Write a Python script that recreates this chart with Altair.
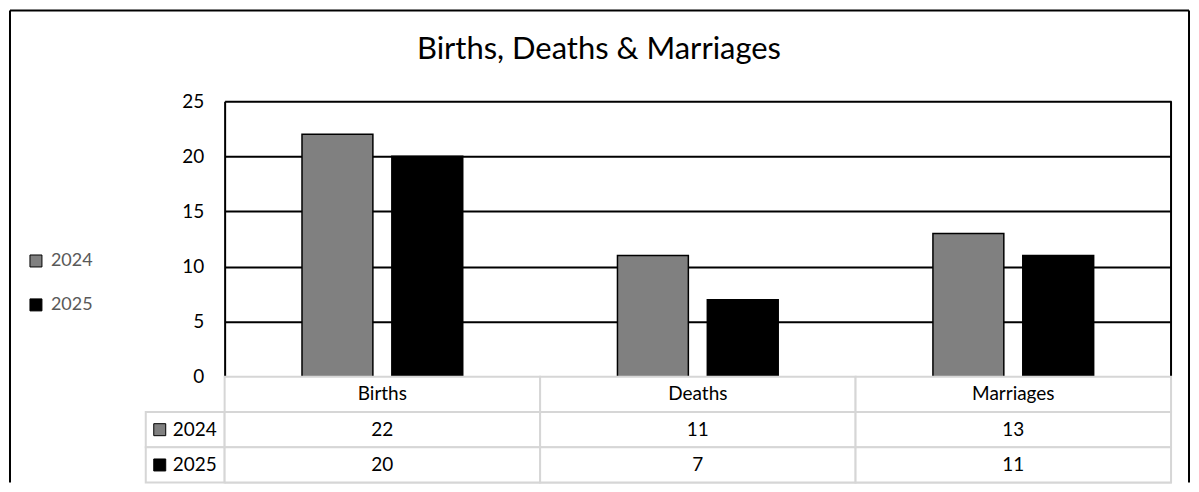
import altair as alt
import pandas as pd

# ---------------- data ----------------
title_text = "Births, Deaths & Marriages"
categories = ["Births", "Deaths", "Marriages"]
years = ["2024", "2025"]
values_2024 = [22, 11, 13]
values_2025 = [20, 7, 11]
y_ticks = [0, 5, 10, 15, 20, 25]
year_colors = ["#808080", "#000000"]
table_row_keys = ["header", "2024", "2025"]

FONT = "Lato"
GRID_GRAY = "#d6d6d6"

rows = []
for c, v in zip(categories, values_2024):
    rows.append({"category": c, "year": "2024", "value": v})
for c, v in zip(categories, values_2025):
    rows.append({"category": c, "year": "2025", "value": v})
df = pd.DataFrame(rows)

table_rows = [{"category": c, "row": "header", "text": c} for c in categories]
for r in rows:
    table_rows.append({"category": r["category"], "row": r["year"], "text": str(r["value"])})
tdf = pd.DataFrame(table_rows)
label_df = pd.DataFrame({"row": years, "year": years})
one = pd.DataFrame({"t": [title_text]})

W = 948
H_TOP = 276
H_TAB = 106
TOP_GAP = 91          # distance from frame line to plot top
BOTTOM = H_TOP + H_TAB

x_scale = alt.Scale(domain=categories, paddingInner=0, paddingOuter=0)
color_scale = alt.Scale(domain=years, range=year_colors)

# ---------------- top: bars ----------------
bars = alt.Chart(df).mark_bar(stroke="black", strokeWidth=1.5).encode(
    x=alt.X("category:N", scale=x_scale, axis=None, sort=categories),
    xOffset=alt.XOffset("year:N", scale=alt.Scale(domain=years, paddingInner=0.211, paddingOuter=0.861)),
    y=alt.Y(
        "value:Q",
        scale=alt.Scale(domain=[0, 25], nice=False),
        axis=alt.Axis(
            values=y_ticks, title=None, ticks=False, tickSize=0, labelPadding=21,
            labelFontSize=19, labelColor="black", labelFont=FONT,
            domainColor="black", domainWidth=2,
            gridColor=alt.condition("datum.value == 0", alt.value("transparent"), alt.value("black")),
            gridWidth=2, gridOpacity=1,
        ),
    ),
    color=alt.Color(
        "year:N", scale=color_scale,
        legend=alt.Legend(
            title=None, orient="none", legendX=-198, legendY=151,
            symbolType="square", symbolSize=144, symbolStrokeColor="black",
            symbolStrokeWidth=1, symbolOpacity=1, labelFontSize=18, labelColor="#595959",
            labelFont=FONT, labelOffset=6, rowPadding=26, padding=0,
        ),
    ),
)

right_border = alt.Chart(one).mark_rule(color="black", strokeWidth=2).encode(
    x=alt.value("width"), y=alt.value(0), y2=alt.value("height")
)

frame_left = alt.Chart(one).mark_rule(color="black", strokeWidth=2).encode(
    x=alt.value(-215), y=alt.value(-TOP_GAP), y2=alt.value(BOTTOM)
)
frame_top = alt.Chart(one).mark_rule(color="black", strokeWidth=2).encode(
    x=alt.value(-215), x2=alt.value(966), y=alt.value(-TOP_GAP)
)
frame_right = alt.Chart(one).mark_rule(color="black", strokeWidth=2).encode(
    x=alt.value(966), y=alt.value(-TOP_GAP), y2=alt.value(BOTTOM)
)

title = alt.Chart(one).mark_text(
    font=FONT, fontSize=31, align="center", baseline="alphabetic", color="black"
).encode(text="t:N", x=alt.value(375), y=alt.value(-42))

top = alt.layer(frame_left, frame_top, frame_right, title, bars, right_border).properties(
    width=W, height=H_TOP
)

# ---------------- bottom: data table ----------------
y_tab = alt.Y("row:N", scale=alt.Scale(domain=table_row_keys, paddingInner=0, paddingOuter=0), axis=None)
x_tab = alt.X("category:N", scale=x_scale, axis=None, sort=categories)

label_cells = alt.Chart(label_df).mark_rect(fill="white", stroke=GRID_GRAY, strokeWidth=2).encode(
    x=alt.value(-79), x2=alt.value(0), y=y_tab
)
cells = alt.Chart(tdf).mark_rect(fill="white", stroke=GRID_GRAY, strokeWidth=2).encode(x=x_tab, y=y_tab)
cell_text = alt.Chart(tdf).mark_text(font=FONT, fontSize=19, color="black").encode(
    x=x_tab, y=y_tab, text="text:N"
)
squares = alt.Chart(label_df).mark_point(
    shape="square", filled=True, size=144, stroke="black", strokeWidth=1, opacity=1
).encode(
    x=alt.value(-65), y=y_tab,
    fill=alt.Fill("year:N", scale=color_scale, legend=None),
)
label_text = alt.Chart(label_df).mark_text(
    font=FONT, fontSize=19, color="black", align="left"
).encode(x=alt.value(-52), y=y_tab, text="year:N")

bottom = alt.layer(label_cells, cells, cell_text, squares, label_text).properties(
    width=W, height=H_TAB
)

chart = alt.vconcat(top, bottom, spacing=0, bounds="flush").properties(
    padding=0
).configure_view(stroke=None).configure(font=FONT)

chart.save("out.html", embed_options={"renderer": "svg", "actions": False})
